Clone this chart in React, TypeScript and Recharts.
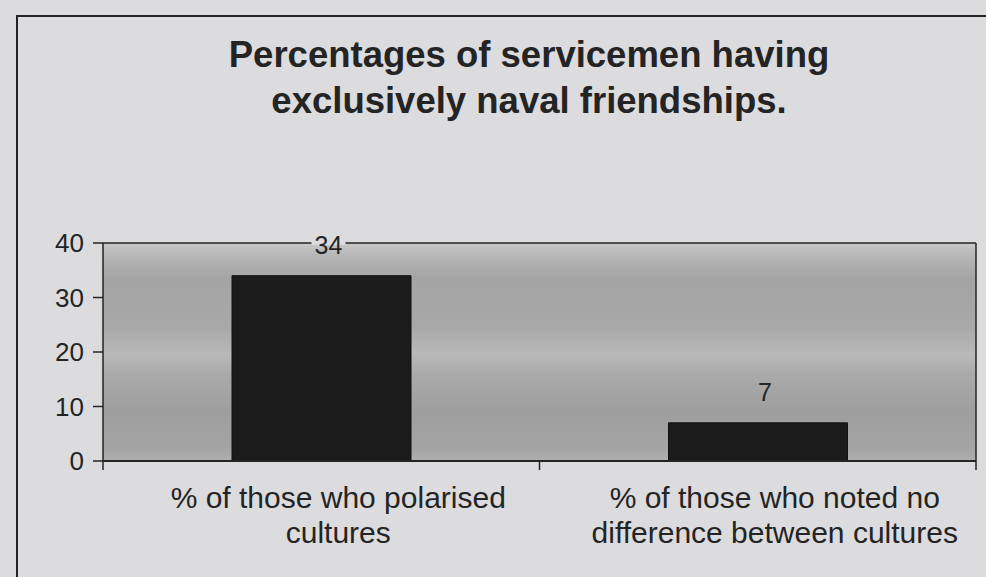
import React from 'react';
import { BarChart, Bar, XAxis, YAxis, CartesianGrid, ReferenceLine, LabelList } from 'recharts';

const titleLines = ['Percentages of servicemen having', 'exclusively naval friendships.'];
const categories = ['% of those who polarised cultures', '% of those who noted no difference between cultures'];
const categoryLines = [
  ['% of those who polarised', 'cultures'],
  ['% of those who noted no', 'difference between cultures'],
];
const percentages = [34, 7];
const yTicks = [0, 10, 20, 30, 40];

const data = categories.map((category, i) => ({ category, value: percentages[i] }));

const W = 986;
const H = 577;
const margin = { top: 243, right: 0, bottom: 16, left: 0 };
const Y_AXIS_W = 103;
const RIGHT_AXIS_W = 10;
const X_AXIS_H = 100;
const axisY = H - margin.bottom - X_AXIS_H;
const band = (W - Y_AXIS_W - RIGHT_AXIS_W) / categories.length;

const INK = '#242424';
const PAGE = '#dcdcdf';
const FONT = '"Liberation Sans", Arial, sans-serif';

// category labels sit slightly right of the band centre in the original
const CategoryTick = (props: any) => {
  const { x, index } = props;
  const lines = categoryLines[index] ?? [];
  return (
    <g>
      {index === 0 && (
        <line x1={x - band / 2} x2={x - band / 2} y1={axisY} y2={axisY + 9} stroke={INK} strokeWidth={1.5} />
      )}
      <line x1={x + band / 2} x2={x + band / 2} y1={axisY} y2={axisY + 9} stroke={INK} strokeWidth={1.5} />
      <text textAnchor="middle" fontSize={30} fill={INK} fontFamily={FONT}>
        {lines.map((l, i) => (
          <tspan key={i} x={x + 17} y={axisY + 47 + i * 35}>
            {l}
          </tspan>
        ))}
      </text>
    </g>
  );
};

const ValueLabel = (props: any) => {
  const { x, y, width, value } = props;
  const cx = x + width / 2 + 7;
  const base = y - 22;
  const overlapsTop = base > margin.top - 2 && base - 20 < margin.top + 2;
  return (
    <g>
      {overlapsTop && <rect x={cx - 17} y={margin.top - 2} width={34} height={4} fill={PAGE} />}
      <text x={cx} y={base} textAnchor="middle" fontSize={25} fill={INK} fontFamily={FONT}>
        {value}
      </text>
    </g>
  );
};

export default function App() {
  return (
    <div style={{ position: 'absolute', left: 0, top: 0, width: W, height: H, background: PAGE, overflow: 'hidden', fontFamily: FONT }}>
      <div
        style={{
          position: 'absolute',
          left: 16,
          top: 15,
          width: W,
          height: H,
          borderLeft: `2px solid ${INK}`,
          borderTop: `2px solid ${INK}`,
        }}
      />
      <div
        style={{
          position: 'absolute',
          left: 129,
          top: 32,
          width: 800,
          textAlign: 'center',
          fontSize: 36.5,
          lineHeight: '46px',
          fontWeight: 'bold',
          color: INK,
        }}
      >
        {titleLines.map((t) => (
          <div key={t}>{t}</div>
        ))}
      </div>
      <div style={{ position: 'absolute', left: 0, top: 0 }}>
        <BarChart width={W} height={H} data={data} margin={margin}>
          <defs>
            <linearGradient id="plotBg" x1="0" y1="0" x2="0" y2="1">
              <stop offset="0%" stopColor="#c8c8c8" />
              <stop offset="6%" stopColor="#b6b6b6" />
              <stop offset="16%" stopColor="#a4a4a4" />
              <stop offset="38%" stopColor="#a8a8a8" />
              <stop offset="51%" stopColor="#b9b9b9" />
              <stop offset="60%" stopColor="#aaaaaa" />
              <stop offset="78%" stopColor="#9e9e9e" />
              <stop offset="94%" stopColor="#a4a4a4" />
              <stop offset="100%" stopColor="#b0b0b0" />
            </linearGradient>
          </defs>
          <CartesianGrid horizontal={false} vertical={false} fill="url(#plotBg)" fillOpacity={1} stroke="none" />
          <XAxis
            dataKey="category"
            height={X_AXIS_H}
            interval={0}
            tickLine={false}
            axisLine={{ stroke: INK, strokeWidth: 2 }}
            tick={<CategoryTick />}
          />
          <YAxis
            width={Y_AXIS_W}
            domain={[0, 40]}
            ticks={yTicks}
            interval={0}
            tickSize={10}
            tickMargin={9}
            axisLine={{ stroke: INK, strokeWidth: 1.5 }}
            tickLine={{ stroke: INK, strokeWidth: 1.5 }}
            tick={{ fontSize: 26, fill: INK, fontFamily: FONT }}
          />
          <YAxis
            yAxisId="right"
            orientation="right"
            width={RIGHT_AXIS_W}
            domain={[0, 40]}
            tick={false}
            tickLine={false}
            axisLine={{ stroke: INK, strokeWidth: 1.5 }}
          />
          <ReferenceLine y={40} stroke={INK} strokeWidth={1.5} />
          <Bar dataKey="value" fill="#1b1b1b" stroke="#111" barSize={179} isAnimationActive={false}>
            <LabelList dataKey="value" content={<ValueLabel />} />
          </Bar>
        </BarChart>
      </div>
    </div>
  );
}
